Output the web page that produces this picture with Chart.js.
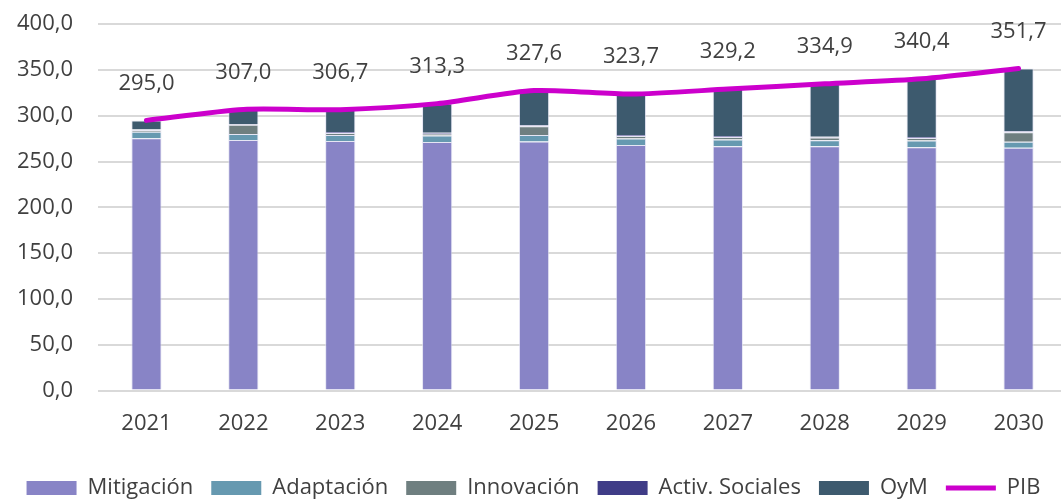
<!DOCTYPE html>
<html>
<head>
<meta charset="utf-8">
<script src="https://cdn.jsdelivr.net/npm/chart.js@4.4.1/dist/chart.umd.min.js"></script>
<style>
  html, body { margin: 0; padding: 0; background: #ffffff; }
  #wrap { width: 1061px; height: 499px; }
</style>
</head>
<body>
<div id="wrap"><canvas id="chart"></canvas></div>
<script>
const ctx = document.getElementById("chart");

const years = ["2021", "2022", "2023", "2024", "2025", "2026", "2027", "2028", "2029", "2030"];
const mitigacion = [275.4, 273.6, 272.5, 271.4, 272.0, 268.1, 266.7, 266.7, 265.6, 265.2];
const adaptacion = [7.3, 6.6, 6.6, 7.0, 7.0, 7.0, 7.3, 6.5, 7.3, 6.6];
const innovacion = [1.5, 9.9, 2.2, 2.1, 9.7, 2.9, 2.9, 3.0, 2.9, 10.2];
const activSociales = [0.8, 0.7, 1.0, 1.0, 1.0, 1.0, 1.0, 1.0, 1.0, 1.0];
const oym = [10.0, 16.2, 24.4, 31.8, 37.9, 44.7, 51.3, 57.7, 63.6, 68.7];
const pib = [295.0, 307.0, 306.7, 313.3, 327.6, 323.7, 329.2, 334.9, 340.4, 351.7];
const yTicks = [0, 50, 100, 150, 200, 250, 300, 350, 400];

const textColor = "#404040";
const fontName = "'Open Sans', 'Noto Sans', sans-serif";
const pibColor = "#CC00CC";

function fmt(v){
    return v.toFixed(1).replace(".", ",");
}

function barSet(label, data, color){
    return {
        type: "bar",
        label: label,
        data: data,
        backgroundColor: color,
        borderColor: "rgba(220,220,240,0.7)",
        borderWidth: 1,
        stack: "gasto",
        order: 1,
        barPercentage: 0.312,
        categoryPercentage: 1,
    };
}

// etiquetas de valor encima de la linea del PIB
const pibLabels = {
    id: "pibLabels",
    afterDatasetsDraw(chart){
        var meta = chart.getDatasetMeta(5);
        var c = chart.ctx;
        c.save();
        c.font = "22px " + fontName;
        c.fillStyle = textColor;
        c.textAlign = "center";
        c.textBaseline = "middle";
        meta.data.forEach(function(pt, i){
            c.fillText(fmt(pib[i]), pt.x, pt.y - 37);
        });
        c.restore();
    }
};

// en el original el eje de categorias acaba unos px fuera del lienzo
const stretchX = {
    id: "stretchX",
    afterLayout(chart){
        var x = chart.scales.x;
        x._endPixel += 6;
        x._length += 6;
    }
};

Chart.defaults.font.family = fontName;
Chart.defaults.color = textColor;

new Chart(ctx, {
    data: {
        labels: years,
        datasets: [
            barSet("Mitigación", mitigacion, "#8884C6"),
            barSet("Adaptación", adaptacion, "#6699B0"),
            barSet("Innovación", innovacion, "#6F7F80"),
            barSet("Activ. Sociales", activSociales, "#3F3C87"),
            barSet("OyM", oym, "#3D5A6E"),
            {
                type: "line",
                label: "PIB",
                data: pib,
                borderColor: pibColor,
                backgroundColor: pibColor,
                borderWidth: 5,
                borderCapStyle: "round",
                pointRadius: 0,
                tension: 0.25,
                stack: "pib",
                order: 0,
            },
        ],
    },
    options: {
        responsive: true,
        maintainAspectRatio: false,
        animation: false,
        layout: { padding: { top: 0, right: 0, left: 6, bottom: -10 } },
        scales: {
            x: {
                stacked: true,
                grid: { display: false },
                border: { display: false },
                ticks: { font: { size: 22 }, color: textColor, padding: 12 },
                afterFit: function(axis){
                    axis.height += 10;
                },
            },
            y: {
                stacked: true,
                min: 0,
                max: 400,
                afterBuildTicks: function(axis){
                    axis.ticks = yTicks.map(function(v){ return { value: v }; });
                },
                grid: { color: "#D9D9D9", lineWidth: 2, drawTicks: true, tickLength: 14, tickColor: "rgba(0,0,0,0)" },
                border: { display: false },
                ticks: {
                    font: { size: 22 },
                    color: textColor,
                    padding: 11,
                    callback: function(v){ return fmt(v); },
                },
            },
        },
        plugins: {
            tooltip: { enabled: false },
            legend: {
                position: "bottom",
                labels: {
                    font: { size: 22 },
                    color: textColor,
                    usePointStyle: true,
                    pointStyleWidth: 50,
                    boxHeight: 14,
                    padding: 18,
                    sort: function(a, b){ return a.datasetIndex - b.datasetIndex; },
                    generateLabels: function(chart){
                        var items = Chart.defaults.plugins.legend.labels.generateLabels(chart);
                        items.forEach(function(it){
                            if (it.datasetIndex == 5){
                                it.pointStyle = "line";
                                it.lineWidth = 5;
                                it.strokeStyle = pibColor;
                            } else {
                                it.pointStyle = "rect";
                                it.lineWidth = 0;
                                it.strokeStyle = it.fillStyle;
                            }
                        });
                        return items;
                    },
                },
            },
        },
    },
    plugins: [pibLabels, stretchX],
});
</script>
</body>
</html>
